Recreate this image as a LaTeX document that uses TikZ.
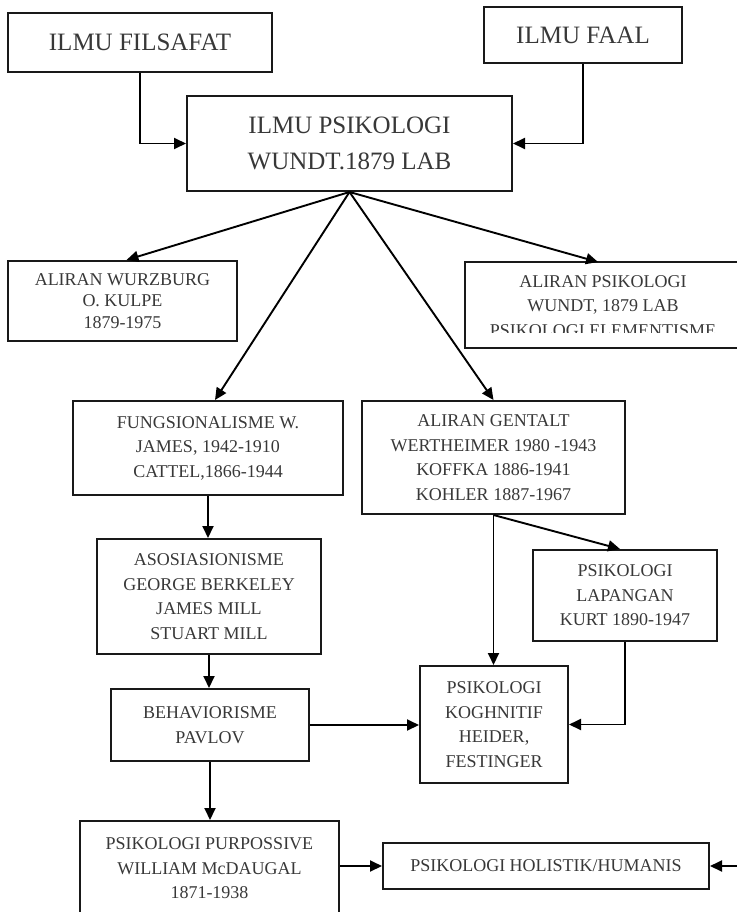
\documentclass[tikz,border=0pt]{standalone}
\usepackage{fontspec}
\setmainfont{Liberation Serif}
\usetikzlibrary{arrows.meta,calc}
\newcommand{\bigfnt}{\fontsize{25}{36}\selectfont}
\newcommand{\smfnt}{\fontsize{18}{24.5}\selectfont}
\tikzset{
  bx/.style={draw=black!90, line width=2pt, rectangle, inner sep=0pt, align=center, text=black!78},
  arr/.style={line width=1.9pt, -{Triangle[length=12pt,width=11pt]}}
}
\newcommand{\bxat}[7]{% name, x1,y1,x2,y2, font, text
  \node[bx, font=#6, minimum width={(#4-#2)*1pt}, minimum height={(#5-#3)*1pt}] (#1) at ({(#2+#4)/2},{(#3+#5)/2}) {#7};}
\begin{document}
\begin{tikzpicture}[x=1pt,y=-1pt]
\useasboundingbox (0,0) rectangle (736,912);
\bxat{fil}{8}{13}{272}{72}{\bigfnt}{ILMU FILSAFAT}
\bxat{faal}{484}{7}{682}{63}{\bigfnt}{ILMU FAAL}
\bxat{psi}{187}{96}{512}{191}{\bigfnt}{ILMU PSIKOLOGI\\ WUNDT.1879 LAB}
\bxat{wur}{8}{261}{237}{341}{\fontsize{18}{21.5}\selectfont}{ALIRAN WURZBURG\\ O. KULPE\\ 1879-1975}
\bxat{alps}{465}{262}{750}{348}{\smfnt}{}
\begin{scope}
\clip (465,262) rectangle (736,332);
\node[align=center, inner sep=0pt, text=black!78, font=\smfnt] (alpst) at (603,306) {ALIRAN PSIKOLOGI\\ WUNDT, 1879 LAB\\ PSIKOLOGI ELEMENTISME};
\end{scope}
\bxat{fun}{73}{401}{343}{495}{\smfnt}{FUNGSIONALISME W.\\ JAMES, 1942-1910\\ CATTEL,1866-1944}
\bxat{gen}{362}{401}{625}{514}{\smfnt}{ALIRAN GENTALT\\ WERTHEIMER 1980 -1943\\ KOFFKA 1886-1941\\ KOHLER 1887-1967}
\bxat{asos}{97}{539}{321}{654}{\smfnt}{ASOSIASIONISME\\ GEORGE BERKELEY\\ JAMES MILL\\ STUART MILL}
\bxat{lap}{533}{550}{717}{641}{\smfnt}{PSIKOLOGI\\ LAPANGAN\\ KURT 1890-1947}
\bxat{beh}{111}{689}{309}{761}{\smfnt}{BEHAVIORISME\\ PAVLOV}
\bxat{kog}{420}{666}{568}{783}{\smfnt}{PSIKOLOGI\\ KOGHNITIF\\ HEIDER,\\ FESTINGER}
\bxat{pur}{80}{821}{339}{916}{\smfnt}{PSIKOLOGI PURPOSSIVE\\ WILLIAM McDAUGAL\\ 1871-1938}
\bxat{hol}{383}{843}{709}{889}{\smfnt}{PSIKOLOGI HOLISTIK/HUMANIS}
\coordinate (rin) at (740,866);
% connectors
\draw[arr] (fil.south) |- (psi.west);
\draw[arr] (faal.south) |- (psi.east);
\draw[arr] (psi.south) -- ($(wur.north)+(4,0)$);
\draw[arr] (psi.south) -- (598,262);
\draw[arr] (psi.south) -- ($(fun.north)+(7,0)$);
\draw[arr] (psi.south) -- (gen.north);
\draw[arr] (fun.south) -- (fun.south |- asos.north);
\draw[arr] (asos.south) -- (asos.south |- beh.north);
\draw[arr] (beh.east) -- (beh.east -| kog.west);
\draw[arr] (gen.south) -- (gen.south |- kog.north);
\draw[arr] (gen.south) -- ($(lap.north)+(-5,0)$);
\draw[arr] (lap.south) |- (kog.east);
\draw[arr] (beh.south) -- (beh.south |- pur.north);
\draw[arr] (pur.east |- hol.west) -- (hol.west);
\draw[arr] (rin) -- (hol.east);
\end{tikzpicture}
\end{document}
